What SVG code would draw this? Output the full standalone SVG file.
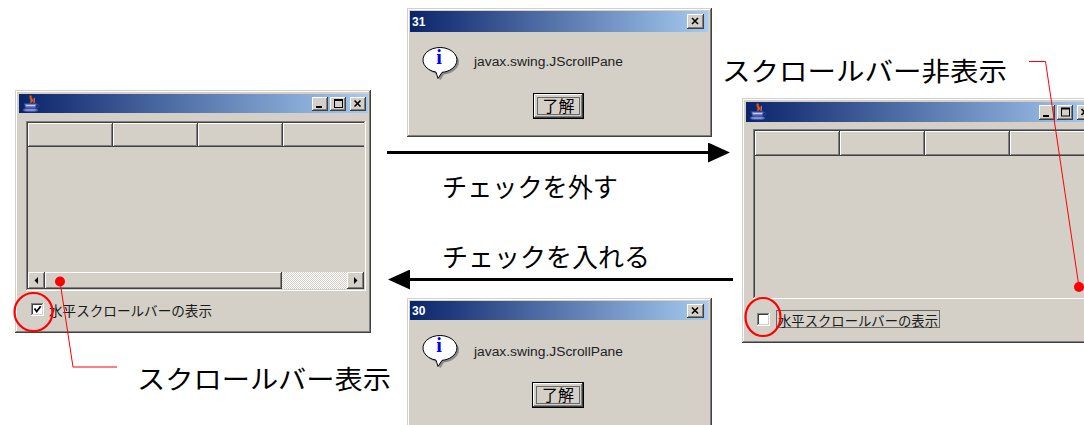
<svg xmlns="http://www.w3.org/2000/svg" width="1084" height="425" viewBox="0 0 1084 425">
<style>
.face{fill:#D4D0C8}.hl{fill:#fff}.sh{fill:#808080}.dk{fill:#404040}.blk{fill:#000}
.ui{font-family:"Noto Sans CJK JP","Liberation Sans",sans-serif;font-size:13.5px;fill:#1a1a1a}
.big{font-family:"Noto Sans CJK JP","Liberation Sans",sans-serif;font-size:26px;fill:#000}
.ttl{font-family:"Liberation Sans",Arial,sans-serif;font-size:12px;font-weight:bold;fill:#fff}
.msg{font-family:"Liberation Sans",Arial,sans-serif;font-size:12.5px;fill:#222}
.ok{font-family:"Noto Sans CJK JP",sans-serif;font-size:16px;fill:#000}
.red{fill:none;stroke:#FF0000;stroke-width:1}
.ring{fill:none;stroke:#FF0000;stroke-width:2.2}
.dot{fill:#FF0000}
.focus{fill:none;stroke:#000;stroke-width:1;stroke-dasharray:1 1}
.arrow{stroke:#000;stroke-width:3;fill:none}
</style>
<defs>
<linearGradient id="tb" x1="0" y1="0" x2="1" y2="0">
<stop offset="0" stop-color="#0A246A"/><stop offset="1" stop-color="#A6CAF0"/>
</linearGradient>
<pattern id="chk" width="2" height="2" patternUnits="userSpaceOnUse">
<rect width="2" height="2" fill="#D4D0C8"/><rect width="1" height="1" fill="#fff"/><rect x="1" y="1" width="1" height="1" fill="#fff"/>
</pattern>
<clipPath id="pane"><rect x="13" y="33" width="336" height="166"/></clipPath>
<marker id="ah" viewBox="0 0 22 20" markerUnits="userSpaceOnUse" markerWidth="22" markerHeight="20" refX="1" refY="10" orient="auto">
<path d="M0,0 L22,10 L0,20 z" fill="#000"/>
</marker>
<g id="javaicon">
<path d="M15.5,5 c-3,3 2,4 -1,9 c4,-2 5,-4 2,-6 c1,-1 0,-2 -1,-3z" fill="#D8602E" stroke="#9A3A1A" stroke-width="0.6"/>
<path d="M19,8 c1.5,1.5 -1,3 0.5,5.5" stroke="#E07040" stroke-width="1.3" fill="none"/>
<path d="M9,13.5 h13 l-1.5,4.5 h-10 z" fill="#6C80CC" stroke="#2A3A8A" stroke-width="0.8"/>
<path d="M11,15.5 h9" stroke="#D0D8F4" stroke-width="0.9"/>
<path d="M22,14.5 c2.5,0 2.5,2.5 0,3" stroke="#3A4AA0" stroke-width="1" fill="none"/>
<ellipse cx="15.5" cy="20" rx="7.5" ry="1.7" fill="#8090D0" stroke="#3A4AA0" stroke-width="1"/>
</g>
<g id="infoicon">
<path d="M37,66.4 A17,12.5 0 1 0 31,66.15 L33,72.5 Z" fill="#8a8a8a"/>
<path d="M35,64.4 A17,12.5 0 1 0 29,64.15 L31,70.5 Z" fill="#fff" stroke="#000" stroke-width="1"/>
</g>
</defs>

<!-- Left window: checked -->
<g id="window-checked" transform="translate(15,90)">
<rect class="dk" width="356" height="243"/>
<rect class="face" width="355" height="242"/>
<rect class="sh" x="1" y="1" width="354" height="241"/>
<rect class="hl" x="1" y="1" width="353" height="240"/>
<rect class="face" x="2" y="2" width="352" height="239"/>
<rect x="4" y="4" width="349" height="19" fill="url(#tb)"/>
<use href="#javaicon"/>
<rect class="dk" x="297" y="7" width="16" height="14"/><rect class="hl" x="297" y="7" width="15" height="13"/><rect class="sh" x="298" y="8" width="14" height="12"/><rect class="face" x="298" y="8" width="13" height="11"/>
<rect class="blk" x="301" y="16" width="6" height="2"/>
<rect class="dk" x="315" y="7" width="16" height="14"/><rect class="hl" x="315" y="7" width="15" height="13"/><rect class="sh" x="316" y="8" width="14" height="12"/><rect class="face" x="316" y="8" width="13" height="11"/>
<path d="M319,9 h9 v2 h-9z M319,9 h1 v9 h-1z M327,9 h1 v9 h-1z M319,17 h9 v1 h-9z" fill="#000"/>
<rect class="dk" x="335" y="7" width="16" height="14"/><rect class="hl" x="335" y="7" width="15" height="13"/><rect class="sh" x="336" y="8" width="14" height="12"/><rect class="face" x="336" y="8" width="13" height="11"/>
<path d="M339.5,10.5 L345.5,16.5 M345.5,10.5 L339.5,16.5" stroke="#000" stroke-width="1.6"/>
<rect class="hl" x="11" y="31" width="340" height="170"/>
<rect class="sh" x="11" y="31" width="339" height="169"/>
<rect class="face" x="12" y="32" width="338" height="168"/>
<rect class="dk" x="12" y="32" width="337" height="167"/>
<rect class="face" x="13" y="33" width="336" height="166"/>
<g clip-path="url(#pane)">
<rect class="dk" x="13" y="33" width="85" height="24"/><rect class="hl" x="13" y="33" width="84" height="23"/><rect class="sh" x="14" y="34" width="83" height="22"/><rect class="face" x="14" y="34" width="82" height="21"/>
<rect class="dk" x="98" y="33" width="85" height="24"/><rect class="hl" x="98" y="33" width="84" height="23"/><rect class="sh" x="99" y="34" width="83" height="22"/><rect class="face" x="99" y="34" width="82" height="21"/>
<rect class="dk" x="183" y="33" width="85" height="24"/><rect class="hl" x="183" y="33" width="84" height="23"/><rect class="sh" x="184" y="34" width="83" height="22"/><rect class="face" x="184" y="34" width="82" height="21"/>
<rect class="dk" x="268" y="33" width="85" height="24"/><rect class="hl" x="268" y="33" width="84" height="23"/><rect class="sh" x="269" y="34" width="83" height="22"/><rect class="face" x="269" y="34" width="82" height="21"/>
</g>
<rect x="13" y="182" width="336" height="17" fill="url(#chk)"/>
<rect class="dk" x="13" y="182" width="17" height="17"/><rect class="hl" x="13" y="182" width="16" height="16"/><rect class="sh" x="14" y="183" width="15" height="15"/><rect class="face" x="14" y="183" width="14" height="14"/>
<polygon points="23,187 23,194 19.5,190.5" fill="#000"/>
<rect class="dk" x="30" y="182" width="237" height="17"/><rect class="hl" x="30" y="182" width="236" height="16"/><rect class="sh" x="31" y="183" width="235" height="15"/><rect class="face" x="31" y="183" width="234" height="14"/>
<rect class="dk" x="332" y="182" width="17" height="17"/><rect class="hl" x="332" y="182" width="16" height="16"/><rect class="sh" x="333" y="183" width="15" height="15"/><rect class="face" x="333" y="183" width="14" height="14"/>
<polygon points="339,187 339,194 342.5,190.5" fill="#000"/>
<rect class="hl" x="16" y="213" width="13" height="13"/><rect class="sh" x="16" y="213" width="12" height="12"/><rect class="face" x="17" y="214" width="11" height="11"/><rect class="dk" x="17" y="214" width="10" height="10"/><rect class="hl" x="18" y="215" width="9" height="9"/>
<path d="M19.5,218.5 L21.7,221.5 L25.7,216.3" stroke="#000" stroke-width="1.8" fill="none"/>
<text class="ui" x="34" y="226" textLength="163" lengthAdjust="spacingAndGlyphs">水平スクロールバーの表示</text>
</g>

<!-- Right window: unchecked -->
<g id="window-unchecked" transform="translate(742,98)">
<rect class="dk" width="356" height="245"/>
<rect class="face" width="355" height="244"/>
<rect class="sh" x="1" y="1" width="354" height="243"/>
<rect class="hl" x="1" y="1" width="353" height="242"/>
<rect class="face" x="2" y="2" width="352" height="241"/>
<rect x="4" y="4" width="349" height="20" fill="url(#tb)"/>
<use href="#javaicon"/>
<rect class="dk" x="297" y="7" width="16" height="15"/><rect class="hl" x="297" y="7" width="15" height="14"/><rect class="sh" x="298" y="8" width="14" height="13"/><rect class="face" x="298" y="8" width="13" height="12"/>
<rect class="blk" x="301" y="17" width="6" height="2"/>
<rect class="dk" x="315" y="7" width="16" height="15"/><rect class="hl" x="315" y="7" width="15" height="14"/><rect class="sh" x="316" y="8" width="14" height="13"/><rect class="face" x="316" y="8" width="13" height="12"/>
<path d="M319,9.5 h9 v2 h-9z M319,9.5 h1 v9 h-1z M327,9.5 h1 v9 h-1z M319,17.5 h9 v1 h-9z" fill="#000"/>
<rect class="dk" x="335" y="7" width="16" height="15"/><rect class="hl" x="335" y="7" width="15" height="14"/><rect class="sh" x="336" y="8" width="14" height="13"/><rect class="face" x="336" y="8" width="13" height="12"/>
<path d="M339.5,11 L345.5,17 M345.5,11 L339.5,17" stroke="#000" stroke-width="1.6"/>
<rect class="hl" x="11" y="31" width="340" height="170"/>
<rect class="sh" x="11" y="31" width="339" height="169"/>
<rect class="face" x="12" y="32" width="338" height="168"/>
<rect class="dk" x="12" y="32" width="337" height="167"/>
<rect class="face" x="13" y="33" width="336" height="166"/>
<g clip-path="url(#pane)">
<rect class="dk" x="13" y="33" width="85" height="25"/><rect class="hl" x="13" y="33" width="84" height="24"/><rect class="sh" x="14" y="34" width="83" height="23"/><rect class="face" x="14" y="34" width="82" height="22"/>
<rect class="dk" x="98" y="33" width="85" height="25"/><rect class="hl" x="98" y="33" width="84" height="24"/><rect class="sh" x="99" y="34" width="83" height="23"/><rect class="face" x="99" y="34" width="82" height="22"/>
<rect class="dk" x="183" y="33" width="85" height="25"/><rect class="hl" x="183" y="33" width="84" height="24"/><rect class="sh" x="184" y="34" width="83" height="23"/><rect class="face" x="184" y="34" width="82" height="22"/>
<rect class="dk" x="268" y="33" width="85" height="25"/><rect class="hl" x="268" y="33" width="84" height="24"/><rect class="sh" x="269" y="34" width="83" height="23"/><rect class="face" x="269" y="34" width="82" height="22"/>
</g>
<rect class="hl" x="15" y="215" width="13" height="13"/><rect class="sh" x="15" y="215" width="12" height="12"/><rect class="face" x="16" y="216" width="11" height="11"/><rect class="dk" x="16" y="216" width="10" height="10"/><rect class="hl" x="17" y="217" width="9" height="9"/>
<rect class="focus" x="34.5" y="212.5" width="163" height="17"/>
<text class="ui" x="36" y="227.5" textLength="160" lengthAdjust="spacingAndGlyphs">水平スクロールバーの表示</text>
</g>

<!-- Dialog 31 -->
<g id="dialog-31" transform="translate(407,8)">
<rect class="dk" width="305" height="129"/>
<rect class="face" width="304" height="128"/>
<rect class="sh" x="1" y="1" width="303" height="127"/>
<rect class="hl" x="1" y="1" width="302" height="126"/>
<rect class="face" x="2" y="2" width="301" height="125"/>
<rect x="3" y="3" width="298" height="21" fill="url(#tb)"/>
<text class="ttl" x="5" y="18">31</text>
<rect class="dk" x="280" y="6" width="17" height="15"/><rect class="hl" x="280" y="6" width="16" height="14"/><rect class="sh" x="281" y="7" width="15" height="13"/><rect class="face" x="281" y="7" width="14" height="12"/>
<path d="M285,10 L291,16 M291,10 L285,16" stroke="#000" stroke-width="1.6"/>
<use href="#infoicon"/>
<text x="32" y="55.5" font-family="Liberation Serif,serif" font-weight="bold" font-size="20" fill="#0000FF" text-anchor="middle">i</text>
<text class="msg" x="67" y="58" textLength="149" lengthAdjust="spacingAndGlyphs">javax.swing.JScrollPane</text>
<rect class="blk" x="126" y="85" width="51" height="26"/>
<rect class="dk" x="127" y="86" width="49" height="24"/><rect class="hl" x="127" y="86" width="48" height="23"/><rect class="sh" x="128" y="87" width="47" height="22"/><rect class="face" x="128" y="87" width="46" height="21"/>
<rect class="focus" x="130.5" y="89.5" width="42" height="17"/>
<text class="ok" x="151.5" y="104" text-anchor="middle">了解</text>
</g>

<!-- Dialog 30 -->
<g id="dialog-30" transform="translate(407,298)">
<rect class="dk" width="305" height="129"/>
<rect class="face" width="304" height="128"/>
<rect class="sh" x="1" y="1" width="303" height="127"/>
<rect class="hl" x="1" y="1" width="302" height="126"/>
<rect class="face" x="2" y="2" width="301" height="125"/>
<rect x="3" y="3" width="298" height="19" fill="url(#tb)"/>
<text class="ttl" x="5" y="17">30</text>
<rect class="dk" x="280" y="6" width="17" height="14"/><rect class="hl" x="280" y="6" width="16" height="13"/><rect class="sh" x="281" y="7" width="15" height="12"/><rect class="face" x="281" y="7" width="14" height="11"/>
<path d="M285,9.5 L291,15.5 M291,9.5 L285,15.5" stroke="#000" stroke-width="1.6"/>
<use href="#infoicon" transform="translate(0,-2)"/>
<text x="32" y="53.5" font-family="Liberation Serif,serif" font-weight="bold" font-size="20" fill="#0000FF" text-anchor="middle">i</text>
<text class="msg" x="67" y="58" textLength="149" lengthAdjust="spacingAndGlyphs">javax.swing.JScrollPane</text>
<rect class="blk" x="125" y="84" width="52" height="26"/>
<rect class="dk" x="126" y="85" width="50" height="24"/><rect class="hl" x="126" y="85" width="49" height="23"/><rect class="sh" x="127" y="86" width="48" height="22"/><rect class="face" x="127" y="86" width="47" height="21"/>
<rect class="focus" x="129.5" y="88.5" width="43" height="17"/>
<text class="ok" x="151" y="103" text-anchor="middle">了解</text>
</g>

<!-- Connectors -->
<g id="connectors">
<line class="arrow" x1="387" y1="152.5" x2="709" y2="152.5" marker-end="url(#ah)"/>
<text class="big" x="442" y="197" textLength="176" lengthAdjust="spacingAndGlyphs">チェックを外す</text>
<line class="arrow" x1="733" y1="279.5" x2="409" y2="279.5" marker-end="url(#ah)"/>
<text class="big" x="442" y="267" textLength="208" lengthAdjust="spacingAndGlyphs">チェックを入れる</text>
</g>

<!-- Annotations -->
<g id="annotation-show">
<circle class="ring" cx="33.5" cy="312" r="19"/>
<polyline class="red" points="60,281.5 73,367 117,367"/>
<circle class="dot" cx="60" cy="281.5" r="5"/>
<text class="big" x="137" y="389" textLength="254" lengthAdjust="spacingAndGlyphs">スクロールバー表示</text>
</g>
<g id="annotation-hide">
<ellipse class="ring" cx="763" cy="317" rx="17.5" ry="19"/>
<polyline class="red" points="1079,287 1045.5,61.5 1029,61.5"/>
<circle class="dot" cx="1079" cy="287" r="5"/>
<text class="big" x="722" y="81" textLength="285" lengthAdjust="spacingAndGlyphs">スクロールバー非表示</text>
</g>
</svg>
